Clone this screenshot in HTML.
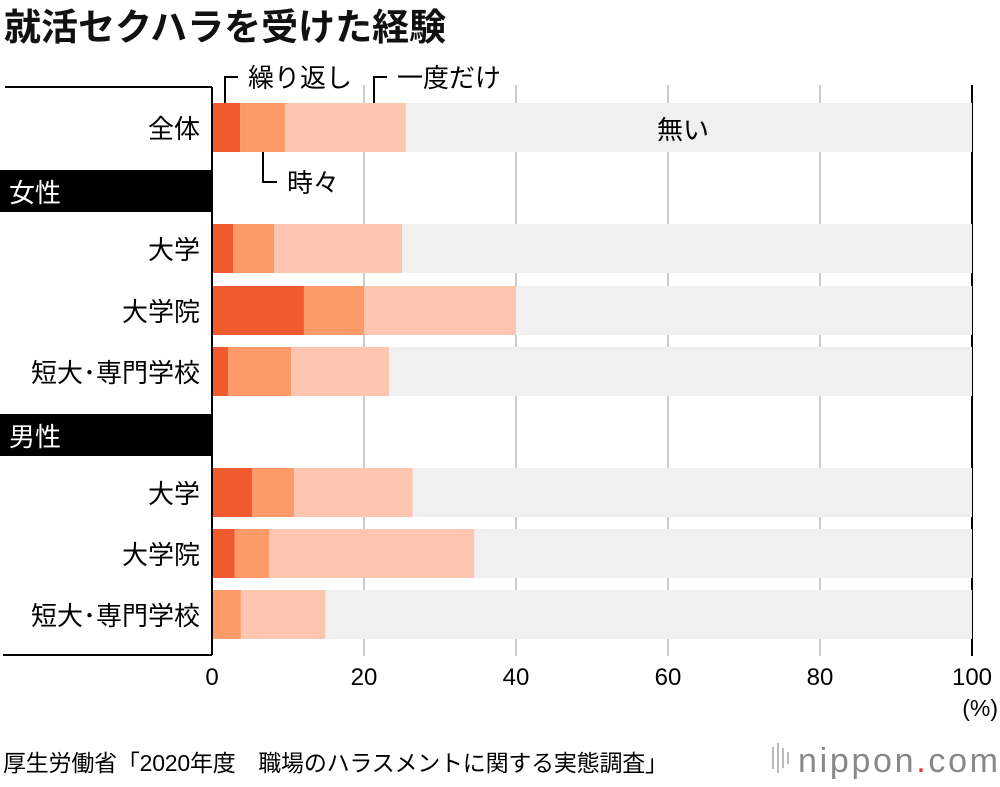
<!DOCTYPE html>
<html><head><meta charset="utf-8"><style>
body{margin:0;background:#fff;width:1000px;height:782px;overflow:hidden;font-family:"Liberation Sans","Noto Sans CJK JP",sans-serif;}
svg text{font-family:"Liberation Sans","Noto Sans CJK JP",sans-serif;}
</style></head><body>
<svg id="c" width="1000" height="782">
<text x="4" y="40" font-size="37" font-weight="bold" fill="#111">就活セクハラを受けた経験</text>
<g id="grid"></g>
<g id="bars"></g>
<g id="labels"></g>
<line x1="5" y1="87" x2="212" y2="87" stroke="#000" stroke-width="2"/>
<line x1="212" y1="87" x2="212" y2="655" stroke="#000" stroke-width="2"/>
<line x1="3" y1="655" x2="212" y2="655" stroke="#000" stroke-width="2"/>
<rect x="0" y="170" width="212" height="42" fill="#000"/>
<text x="9" y="202" font-size="26" fill="#fff">女性</text>
<rect x="0" y="414" width="212" height="42" fill="#000"/>
<text x="9" y="446" font-size="26" fill="#fff">男性</text>
<path d="M225 103 V77 H238" fill="none" stroke="#000" stroke-width="2"/>
<text x="248" y="87" font-size="26">繰り返し</text>
<path d="M374 103 V77 H387" fill="none" stroke="#000" stroke-width="2"/>
<text x="397" y="87" font-size="26">一度だけ</text>
<path d="M263 152 V182 H277" fill="none" stroke="#000" stroke-width="2"/>
<text x="287" y="192" font-size="26">時々</text>
<text x="683" y="139" font-size="26" text-anchor="middle">無い</text>
<text x="998" y="716" font-size="23" text-anchor="end">(%)</text>
<text x="3" y="771" font-size="23" textLength="665">厚生労働省「2020年度　職場のハラスメントに関する実態調査」</text>
<g>
<rect x="772" y="747" width="2" height="22" fill="#bbb"/><rect x="777" y="743" width="2" height="30" fill="#bbb"/><rect x="782" y="748" width="2" height="20" fill="#bbb"/><rect x="787" y="752" width="2" height="12" fill="#bbb"/>
<text x="798" y="772" font-size="34" fill="#888" textLength="200">nippon<tspan fill="#e8352b">.</tspan>com</text>
</g>
</svg>
<script>
const categories=["全体","大学","大学院","短大･専門学校","大学","大学院","短大･専門学校"];
const repeatVals=[3.7,2.8,12.1,2.1,5.3,3.0,0];
const sometimesVals=[5.9,5.4,7.9,8.3,5.5,4.5,3.8];
const onceVals=[15.9,16.8,20.0,12.9,15.6,27.0,11.1];
const ticks=[0,20,40,60,80,100];
const rowTops=[103,224,286,347,468,529,590];
const NS="http://www.w3.org/2000/svg";
const x=v=>212+v*7.6;
function mk(t,a,p){const e=document.createElementNS(NS,t);for(const k in a)e.setAttribute(k,a[k]);p.appendChild(e);return e;}
const grid=document.getElementById('grid'),bars=document.getElementById('bars'),labels=document.getElementById('labels');
ticks.forEach(t=>{
  if(t>0){const l=mk('line',{x1:x(t),x2:x(t),y1:85,y2:656,stroke:t===100?'#000':'#ccc','stroke-width':2},grid);
  
  }
  const tx=mk('text',{x:x(t),y:685,'font-size':24,'text-anchor':'middle'},labels);tx.textContent=t;
  
  
});
const cols=['#ef5a2f','#fe9a68','#fec6b1'];
categories.forEach((c,i)=>{
  const y=rowTops[i],h=49;
  const bg=mk('rect',{x:x(0),y:y,width:x(100)-x(0),height:h,fill:'#f0f0f0'},bars);
  
  
  let acc=0;
  [repeatVals[i],sometimesVals[i],onceVals[i]].forEach((v,j)=>{
    const r=mk('rect',{x:x(acc),y:y,width:x(acc+v)-x(acc),height:h,fill:cols[j]},bars);
    
    
    acc+=v;
  });
  const t=mk('text',{x:200,y:y+35,'font-size':26,'text-anchor':'end'},labels);t.textContent=c;
  
  
});
</script>
</body></html>
